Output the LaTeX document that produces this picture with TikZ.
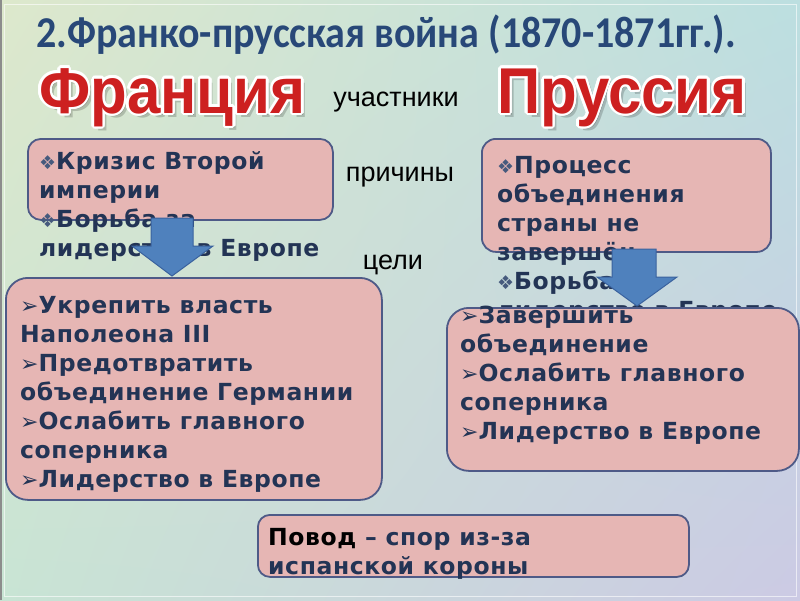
\documentclass[tikz,border=0pt]{standalone}
\usepackage{fontspec}
\usepackage{graphicx}
\usetikzlibrary{shadings,calc}
\setmainfont{DejaVu Sans}
\newfontfamily\titlefont{Carlito}
\newfontfamily\arialfont{Liberation Sans}
\newfontfamily\dingfont{DejaVu Sans}
\newfontfamily\boxfont{DejaVu Sans}[LetterSpace=2.5]
\definecolor{bgtl}{RGB}{221,232,204}
\definecolor{bgtr}{RGB}{188,223,224}
\definecolor{bgbl}{RGB}{200,228,212}
\definecolor{bgbr}{RGB}{204,202,228}
\definecolor{boxfill}{RGB}{230,182,180}
\definecolor{boxline}{RGB}{78,90,135}
\definecolor{navy}{RGB}{35,52,85}
\definecolor{bulletc}{RGB}{70,90,125}
\definecolor{titleblue}{RGB}{40,72,120}
\definecolor{bigred}{RGB}{205,32,32}
\definecolor{arrowfill}{RGB}{79,129,189}
\definecolor{arrowline}{RGB}{58,98,158}
\newcommand{\dia}{{\dingfont\mdseries\fontsize{19}{29}\selectfont\color{bulletc}❖}}
\newcommand{\arr}{{\dingfont\mdseries\fontsize{22}{29}\selectfont ➢}}
\newcommand{\bigtext}[1]{\scalebox{1}[1.08]{#1}}
\tikzset{
  box/.style={draw=boxline, line width=1.8pt, fill=boxfill, inner sep=0pt, anchor=north west},
  boxtext/.style={anchor=base west, inner sep=0pt, align=left, text=navy,
    font=\boxfont\bfseries\fontsize{23.5}{29}\selectfont},
  lbl/.style={anchor=base, inner sep=0pt, font=\arialfont\fontsize{27}{30}\selectfont},
  bigword/.style={anchor=base west, inner sep=0pt, font=\arialfont\bfseries\fontsize{60}{70}\selectfont},
  blockarrow/.style={fill=arrowfill, draw=arrowline, line width=1pt, line join=miter},
}
\begin{document}
\begin{tikzpicture}[x=1pt,y=-1pt]
\useasboundingbox (0,0) rectangle (800,600);
\shade[upper left=bgtl, upper right=bgtr, lower left=bgbl, lower right=bgbr] (0,0) rectangle (800,600);
\draw[white, opacity=0.6, line width=1pt] (4,4) rectangle (796,596);
\draw[black!45, line width=1.5pt] (1,0) -- (1,600);

% title
\node[anchor=base, inner sep=0pt, text=titleblue, font=\titlefont\bfseries\fontsize{40}{46}\selectfont] (title) at (386,47) {\scalebox{1}[1.1]{2.Франко-прусская война (1870-1871гг.).}};

% big red words
\node[bigword, text=black, opacity=0.18] (frsh) at (43,117) {\bigtext{Франция}};
\node[bigword, text=black, opacity=0.18] (prsh) at (501,117) {\bigtext{Пруссия}};
\node[bigword, text=black, opacity=0.18] (frsh2) at (41,115.5) {\bigtext{Франция}};
\node[bigword, text=black, opacity=0.18] (prsh2) at (499,115.5) {\bigtext{Пруссия}};
\foreach \a [count=\i] in {0,22.5,...,337.5} {
  \node[bigword, text=white] (frw\i) at ($(39,113)+(\a:2.5)$) {\bigtext{Франция}};
  \node[bigword, text=white] (prw\i) at ($(497,113)+(\a:2.5)$) {\bigtext{Пруссия}};
}
\node[bigword, text=bigred] (fr) at (39,113) {\bigtext{Франция}};
\node[bigword, text=bigred] (pr) at (497,113) {\bigtext{Пруссия}};

% labels
\node[lbl] (uch) at (396,106) {участники};
\node[lbl] (prich) at (400,181) {причины};
\node[lbl] (celi) at (393,269) {цели};

% box 1
\node[box, rounded corners=13pt, minimum width=305pt, minimum height=81pt] (b1) at (27,138) {};
\node[boxtext] (t1) at (39,256) {\dia Кризис Второй\\империи\\\dia Борьба за\\лидерство в Европе};

% box 2
\node[box, rounded corners=14pt, minimum width=289pt, minimum height=113pt] (b2) at (481,138) {};
\node[boxtext] (t2) at (497,318) {\dia Процесс\\объединения\\страны не\\завершён\\\dia Борьба за\\лидерство в Европе};

% arrows
\draw[blockarrow] (151,218) -- (193,218) -- (193,246) -- (213,246) -- (172,276) -- (132,246) -- (151,246) -- cycle;
\draw[blockarrow] (612,249) -- (656,249) -- (656,277) -- (677,277) -- (637,306) -- (597,277) -- (612,277) -- cycle;

% box 3
\node[box, rounded corners=22pt, minimum width=376pt, minimum height=222pt] (b3) at (5,277) {};
\node[boxtext] (t3) at (20,487) {\arr Укрепить власть\\Наполеона III\\\arr Предотвратить\\объединение Германии\\\arr Ослабить главного\\соперника\\\arr Лидерство в Европе};

% box 4
\node[box, rounded corners=22pt, minimum width=352pt, minimum height=163pt] (b4) at (446,307) {};
\node[boxtext] (t4) at (460,439) {\arr Завершить\\объединение\\\arr Ослабить главного\\соперника\\\arr Лидерство в Европе};

% box 5
\node[box, rounded corners=12pt, minimum width=431pt, minimum height=62pt] (b5) at (257,514) {};
\node[boxtext] (t5) at (268,574) {{\color{black}Повод} – спор из-за\\испанской короны};
\end{tikzpicture}
\end{document}
